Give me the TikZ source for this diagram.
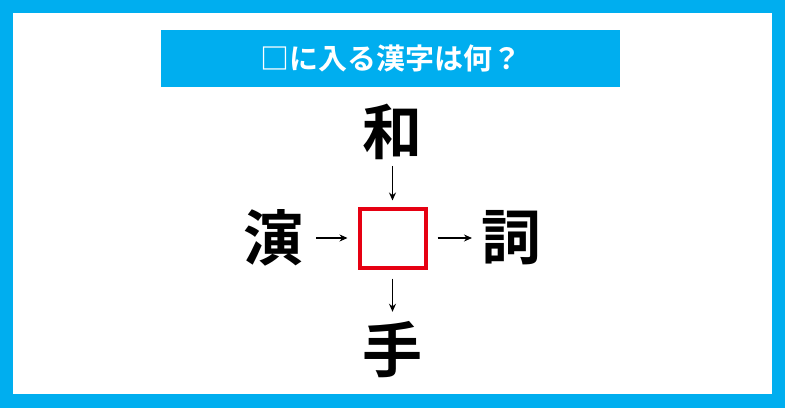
\documentclass[tikz,border=0pt]{standalone}
\usepackage{fontspec}
\newfontfamily\jpfont{Noto Sans CJK JP}[BoldFont={* Bold}]
\usetikzlibrary{arrows.meta}
\definecolor{frameblue}{RGB}{0,174,239}
\definecolor{boxred}{RGB}{230,0,18}
\tikzset{
  kanji/.style={font=\jpfont\bfseries\fontsize{60}{60}\selectfont, inner sep=0pt, outer sep=0pt},
  conn/.style={line width=1.4pt, -{Stealth[length=8pt,width=7pt]}},
  blank/.style={draw=boxred, line width=4pt, minimum width=66pt, minimum height=59pt, inner sep=0pt}
}
\begin{document}
\begin{tikzpicture}[x=1pt,y=-1pt]
\useasboundingbox (0,0) rectangle (785,408);
\fill[frameblue] (0,0) rectangle (785,408);
\fill[white] (13,13) rectangle (772,394);
\node[fill=frameblue, minimum width=459pt, minimum height=57pt, inner sep=0pt, text=white,
  font=\jpfont\bfseries\fontsize{29}{29}\selectfont] (title) at (390.5,58.5) {□に入る漢字は何？};
\node[blank] (box) at (392.5,238) {};
\node[kanji] (top) at (392.5,132) {和};
\node[kanji] (left) at (273,238) {演};
\node[kanji] (right) at (511,238) {詞};
\node[kanji] (bottom) at (392.5,350) {手};
\draw[conn, shorten <=6pt, shorten >=6pt] (top) -- (box);
\draw[conn, shorten <=13pt, shorten >=10pt] (left) -- (box);
\draw[conn, shorten <=10pt, shorten >=9pt] (box) -- (right);
\draw[conn, shorten <=9pt, shorten >=10pt] (box) -- (bottom);
\end{tikzpicture}
\end{document}
